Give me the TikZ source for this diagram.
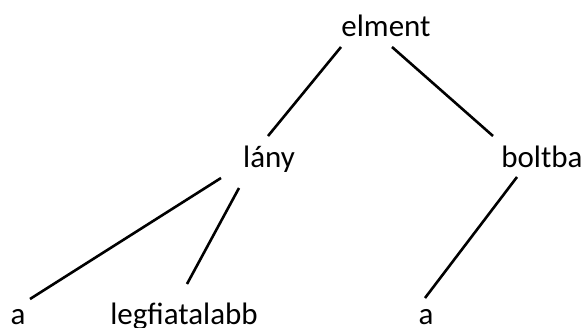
\documentclass[tikz,border=0pt]{standalone}
\usepackage{fontspec}
\setmainfont{Carlito}
\begin{document}
\begin{tikzpicture}[x=1pt,y=-1pt,
  word/.style={inner sep=0pt,anchor=base,font=\fontsize{31}{31}\selectfont},
  edge/.style={line width=2.6pt,black}]
\useasboundingbox (0,0) rectangle (585,327);
\node[word] (elment) at (386,36) {elment};
\node[word] (lany) at (269,167) {lány};
\node[word] (boltba) at (542,167) {boltba};
\node[word] (a1) at (18,324) {a};
\node[word] (legf) at (184,324) {legfiatalabb};
\node[word] (a2) at (426,324) {a};
\draw[edge] ([shift={(-45,11)}]elment.base) -- ([shift={(-1,-31)}]lany.base);
\draw[edge] ([shift={(6,11)}]elment.base) -- ([shift={(-49,-31)}]boltba.base);
\draw[edge] ([shift={(-48,11)}]lany.base) -- ([shift={(12,-25)}]a1.base);
\draw[edge] ([shift={(-30,21)}]lany.base) -- ([shift={(3,-40)}]legf.base);
\draw[edge] ([shift={(-25,10)}]boltba.base) -- ([shift={(-1,-26)}]a2.base);
\end{tikzpicture}
\end{document}
